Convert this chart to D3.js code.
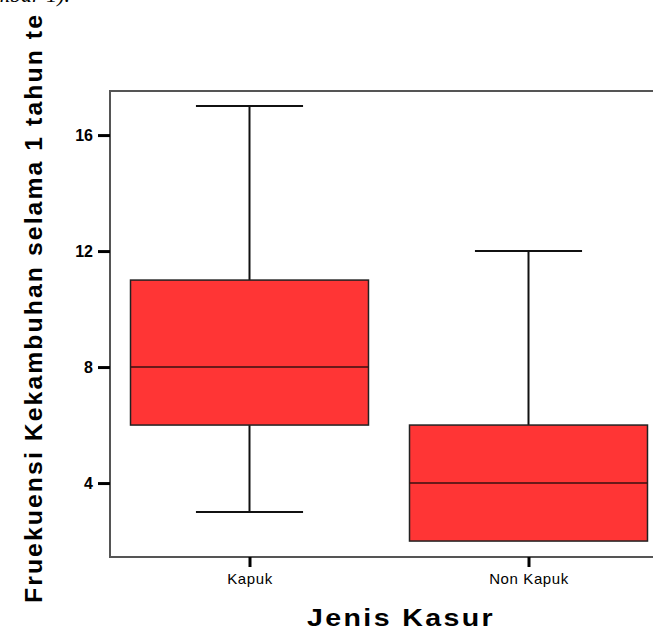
<!DOCTYPE html>
<html>
<head>
<meta charset="utf-8">
<script src="https://cdn.jsdelivr.net/npm/d3@7"></script>
<style>
  body { margin: 0; background: #fff; }
  svg { display: block; }
</style>
</head>
<body>
<div id="chart"></div>
<script>
var categories = ["Kapuk", "Non Kapuk"];
var whiskerLow = [3, 2];
var q1 = [6, 2];
var medians = [8, 4];
var q3 = [11, 6];
var whiskerHigh = [17, 12];
var yTicks = [4, 8, 12, 16];

var yTitle = "Fruekuensi Kekambuhan selama 1 tahun te";
var xTitle = "Jenis Kasur";

var width = 653, height = 631;
var frame = { left: 110, top: 91, right: 668, bottom: 557 };

var svg = d3.select("#chart").append("svg")
    .attr("width", width)
    .attr("height", height);

var x = d3.scalePoint()
    .domain(categories)
    .range([frame.left, frame.right])
    .padding(0.5);

var y = d3.scaleLinear()
    .domain([1.45, 17.52])
    .range([frame.bottom, frame.top]);

var boxW = x.step() * 0.853;
var capW = boxW * 0.45;

// caption fragment from the page above the chart
svg.append("text")
    .attr("x", 70)
    .attr("y", 2)
    .attr("text-anchor", "end")
    .style("font-family", "'Liberation Serif', serif")
    .style("font-style", "italic")
    .style("font-size", "22px")
    .text("(Gambar 1).");

// frame
svg.append("rect")
    .attr("x", frame.left)
    .attr("y", frame.top)
    .attr("width", frame.right - frame.left)
    .attr("height", frame.bottom - frame.top)
    .attr("fill", "none")
    .attr("stroke", "#555")
    .attr("stroke-width", 2);

var data = categories.map(function (c, i) {
    return { cat: c, lo: whiskerLow[i], q1: q1[i], med: medians[i], q3: q3[i], hi: whiskerHigh[i] };
});

var g = svg.selectAll("g.box")
    .data(data)
    .join("g")
    .attr("class", "box");

// whiskers
g.append("line")
    .attr("x1", d => x(d.cat)).attr("x2", d => x(d.cat))
    .attr("y1", d => y(d.hi)).attr("y2", d => y(d.q3))
    .attr("stroke", "#111").attr("stroke-width", 2);
g.append("line")
    .attr("x1", d => x(d.cat)).attr("x2", d => x(d.cat))
    .attr("y1", d => y(d.lo)).attr("y2", d => y(d.q1))
    .attr("stroke", "#111").attr("stroke-width", 2);
g.append("line")
    .attr("x1", d => x(d.cat) - capW / 2).attr("x2", d => x(d.cat) + capW / 2)
    .attr("y1", d => y(d.hi)).attr("y2", d => y(d.hi))
    .attr("stroke", "#111").attr("stroke-width", 2);
g.append("line")
    .attr("x1", d => x(d.cat) - capW / 2).attr("x2", d => x(d.cat) + capW / 2)
    .attr("y1", d => y(d.lo)).attr("y2", d => y(d.lo))
    .attr("stroke", "#111").attr("stroke-width", 2)
    .attr("display", d => d.lo === d.q1 ? "none" : null);

// boxes
g.append("rect")
    .attr("x", d => x(d.cat) - boxW / 2)
    .attr("y", d => y(d.q3))
    .attr("width", boxW)
    .attr("height", d => y(d.q1) - y(d.q3))
    .attr("fill", "#ff3535")
    .attr("stroke", "#222")
    .attr("stroke-width", 1.5);

// medians
g.append("line")
    .attr("x1", d => x(d.cat) - boxW / 2).attr("x2", d => x(d.cat) + boxW / 2)
    .attr("y1", d => y(d.med)).attr("y2", d => y(d.med))
    .attr("stroke", "#3a1010").attr("stroke-width", 1.5);

// y axis
var yAxis = svg.append("g")
    .attr("transform", "translate(" + frame.left + ",0)")
    .call(d3.axisLeft(y).tickValues(yTicks).tickSize(12).tickPadding(5));
yAxis.select(".domain").remove();
yAxis.selectAll(".tick line").attr("stroke", "#000").attr("stroke-width", 3);
yAxis.selectAll(".tick text")
    .attr("fill", "#000")
    .style("font-family", "Arial, 'Liberation Sans', sans-serif")
    .style("font-size", "16px")
    .style("font-weight", "bold");

// x axis
var xAxis = svg.append("g")
    .attr("transform", "translate(0," + frame.bottom + ")")
    .call(d3.axisBottom(x).tickSize(10).tickPadding(6));
xAxis.select(".domain").remove();
xAxis.selectAll(".tick line").attr("stroke", "#000").attr("stroke-width", 3);
xAxis.selectAll(".tick text")
    .attr("fill", "#000")
    .style("font-family", "Arial, 'Liberation Sans', sans-serif")
    .style("font-size", "15px")
    .style("letter-spacing", "0.6px");

// axis titles
svg.append("text")
    .attr("x", 307)
    .attr("y", 626)
    .attr("textLength", 188)
    .attr("lengthAdjust", "spacingAndGlyphs")
    .style("font-family", "Arial, 'Liberation Sans', sans-serif")
    .style("font-size", "24px")
    .style("font-weight", "bold")
    .style("letter-spacing", "2px")
    .text(xTitle);

svg.append("text")
    .attr("transform", "translate(42,603) rotate(-90)")
    .attr("x", 0)
    .attr("y", 0)
    .attr("textLength", 590)
    .attr("lengthAdjust", "spacingAndGlyphs")
    .style("font-family", "Arial, 'Liberation Sans', sans-serif")
    .style("font-size", "24px")
    .style("font-weight", "bold")
    .style("letter-spacing", "2px")
    .text(yTitle);
</script>
</body>
</html>
